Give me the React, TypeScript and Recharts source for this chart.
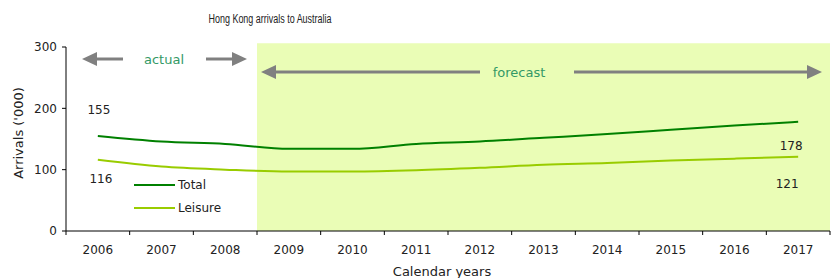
import React from 'react';
import { LineChart, Line, XAxis, YAxis, ReferenceArea, LabelList, Legend } from 'recharts';

const years = ['2006', '2007', '2008', '2009', '2010', '2011', '2012', '2013', '2014', '2015', '2016', '2017'];
const totalArrivals = [155, 146, 142, 134, 134, 142, 146, 152, 158, 165, 172, 178];
const leisureArrivals = [116, 105, 100, 97, 97, 99, 103, 108, 111, 115, 118, 121];
const yTicks = [0, 100, 200, 300];
const forecastFrom = '2009';
const forecastTo = '2017';

const data = years.map((year, i) => ({ year, total: totalArrivals[i], leisure: leisureArrivals[i] }));

const FONT = '"DejaVu Sans", Verdana, sans-serif';
const TEXT = '#222';
const DARK_GREEN = '#008000';
const LIGHT_GREEN = '#99CC00';
const SHADE = '#EAFDB6';
const ARROW = '#808080';
const NOTE = '#339966';
const BAND = 764 / 12;

function YearTick(props: any) {
  const { x, y, payload, index } = props;
  const last = index === years.length - 1;
  return (
    <g>
      <line x1={x - BAND / 2} y1={y} x2={x - BAND / 2} y2={y + 4} stroke="#000" />
      {last && <line x1={x + BAND / 2} y1={y} x2={x + BAND / 2} y2={y + 4} stroke="#000" />}
      <text x={x} y={y + 19} textAnchor="middle" dominantBaseline="central" fontSize={12} fill={TEXT} fontFamily={FONT}>
        {payload.value}
      </text>
    </g>
  );
}

const XTitle = (props: any) => {
  const { viewBox } = props;
  return (
    <text x={viewBox.x + viewBox.width / 2 - 6} y={viewBox.y + viewBox.height + 10} textAnchor="middle" dominantBaseline="central" fontSize={13} fill={TEXT} fontFamily={FONT}>
      Calendar years
    </text>
  );
};

const YTitle = (props: any) => {
  const { viewBox } = props;
  const cx = viewBox.x + 18;
  const cy = viewBox.y + viewBox.height / 2 - 6;
  return (
    <text x={cx} y={cy} transform={`rotate(-90, ${cx}, ${cy})`} textAnchor="middle" dominantBaseline="central" fontSize={13} fill={TEXT} fontFamily={FONT}>
      Arrivals ('000)
    </text>
  );
};

// first / last point labels, placed like the original data labels
const endLabel = (offsets: { first: [number, number]; last: [number, number] }) => (props: any) => {
  const { x, y, value, index } = props;
  let off: [number, number] | null = null;
  if (index === 0) off = offsets.first;
  if (index === years.length - 1) off = offsets.last;
  if (!off) return null;
  return (
    <text x={x + off[0]} y={y + off[1]} textAnchor="middle" dominantBaseline="central" fontSize={12} fill={TEXT} fontFamily={FONT}>
      {value}
    </text>
  );
};

function Head({ tip, y, dir }: { tip: number; y: number; dir: 1 | -1 }) {
  const base = tip - dir * 15;
  return <polygon points={`${tip},${y} ${base},${y - 7} ${base},${y + 7}`} fill={ARROW} />;
}

// title and actual/forecast arrows, drawn over the chart
function Overlay() {
  return (
    <svg width={834} height={278} style={{ position: 'absolute', left: 0, top: 0, pointerEvents: 'none' }}>
      <text x={270} y={19} textAnchor="middle" dominantBaseline="central" fontSize={12.5} textLength={123} lengthAdjust="spacingAndGlyphs" fill={TEXT} fontFamily='"Liberation Sans Narrow", "Liberation Sans", sans-serif'>
        Hong Kong arrivals to Australia
      </text>
      <Head tip={82} y={59} dir={-1} />
      <line x1={96} y1={59} x2={123} y2={59} stroke={ARROW} strokeWidth={3} />
      <text x={164} y={59} textAnchor="middle" dominantBaseline="central" fontSize={13} fill={NOTE} fontFamily={FONT}>actual</text>
      <line x1={206} y1={59} x2={233} y2={59} stroke={ARROW} strokeWidth={3} />
      <Head tip={247} y={59} dir={1} />
      <Head tip={261} y={72} dir={-1} />
      <line x1={275} y1={72} x2={480} y2={72} stroke={ARROW} strokeWidth={3} />
      <text x={519} y={72} textAnchor="middle" dominantBaseline="central" fontSize={13} fill={NOTE} fontFamily={FONT}>forecast</text>
      <line x1={574} y1={72} x2={808} y2={72} stroke={ARROW} strokeWidth={3} />
      <Head tip={822} y={72} dir={1} />
    </svg>
  );
}

const legendItems = [
  { name: 'Total', color: DARK_GREEN },
  { name: 'Leisure', color: LIGHT_GREEN },
];

function LegendBox() {
  return (
    <div style={{ fontFamily: FONT, fontSize: 12, color: TEXT }}>
      {legendItems.map((s) => (
        <div key={s.name} style={{ display: 'flex', alignItems: 'center', height: 23 }}>
          <span style={{ display: 'inline-block', width: 41, height: 2, background: s.color, marginRight: 3 }} />
          <span>{s.name}</span>
        </div>
      ))}
    </div>
  );
}

export default function App() {
  return (
    <div style={{ position: 'absolute', left: 0, top: 0, width: 834, height: 278, background: '#fff' }}>
      <LineChart width={834} height={278} data={data} margin={{ top: 47, right: 4, bottom: 17, left: 0 }}>
        <ReferenceArea x1={forecastFrom} x2={forecastTo} y1={0} y2={306} ifOverflow="visible" fill={SHADE} fillOpacity={1} stroke="none" />
        <XAxis
          dataKey="year"
          scale="band"
          height={30}
          tickLine={false}
          tickSize={0}
          tickMargin={0}
          axisLine={{ stroke: '#000' }}
          tick={<YearTick />}
          interval={0}
          label={<XTitle />}
        />
        <YAxis
          width={66}
          domain={[0, 300]}
          ticks={yTicks}
          tickSize={4}
          tickMargin={5}
          axisLine={{ stroke: '#000' }}
          tickLine={{ stroke: '#000' }}
          tick={{ fontSize: 12, fill: TEXT, fontFamily: FONT }}
          label={<YTitle />}
        />
        <Line type="monotone" dataKey="total" name="Total" stroke={DARK_GREEN} strokeWidth={2} dot={false} isAnimationActive={false}>
          <LabelList dataKey="total" content={endLabel({ first: [1, -26], last: [-7, 24] })} />
        </Line>
        <Line type="monotone" dataKey="leisure" name="Leisure" stroke={LIGHT_GREEN} strokeWidth={2} dot={false} isAnimationActive={false}>
          <LabelList dataKey="leisure" content={endLabel({ first: [3, 19], last: [-11, 27] })} />
        </Line>
        <Legend
          layout="vertical"
          align="center"
          verticalAlign="middle"
          content={<LegendBox />}
          wrapperStyle={{ left: 134, top: 173, width: 110, height: 46 }}
        />
      </LineChart>
      <Overlay />
    </div>
  );
}
